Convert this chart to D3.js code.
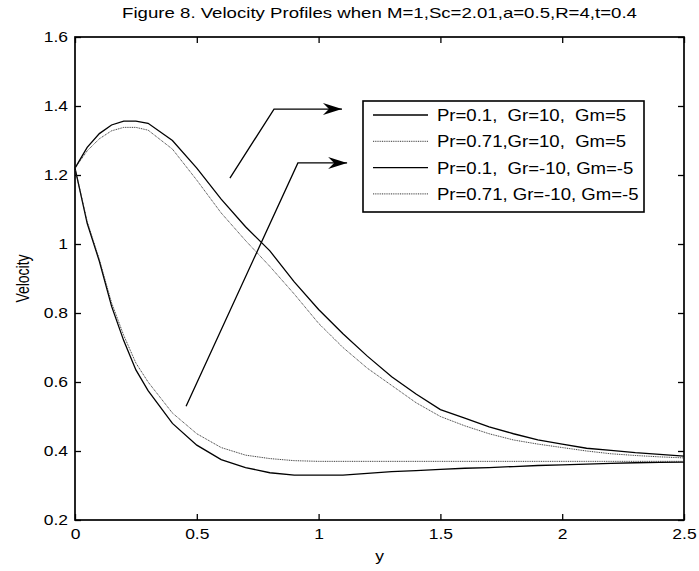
<!DOCTYPE html>
<html>
<head>
<meta charset="utf-8">
<script src="https://cdn.jsdelivr.net/npm/d3@7"></script>
<style>
  body { margin: 0; background: #fff; }
  svg text { font-family: "Liberation Sans", Arial, sans-serif; fill: #000; }
</style>
</head>
<body>
<div id="chart"></div>
<script>
// data
var yPos = [0, 0.05, 0.1, 0.15, 0.2, 0.25, 0.3, 0.4, 0.5, 0.6, 0.7, 0.8, 0.9, 1.0, 1.1, 1.2,
            1.3, 1.4, 1.5, 1.6, 1.7, 1.8, 1.9, 2.0, 2.1, 2.2, 2.3, 2.4, 2.5];

var velA = [1.22, 1.28, 1.32, 1.345, 1.356, 1.356, 1.35, 1.30, 1.22, 1.13, 1.05, 0.98, 0.89, 0.81, 0.74, 0.675,
            0.615, 0.565, 0.52, 0.495, 0.47, 0.45, 0.432, 0.42, 0.408, 0.402, 0.395, 0.39, 0.385];
var velB = [1.22, 1.27, 1.305, 1.328, 1.338, 1.338, 1.33, 1.275, 1.185, 1.09, 1.01, 0.935, 0.855, 0.77, 0.70, 0.64,
            0.59, 0.54, 0.50, 0.473, 0.45, 0.432, 0.42, 0.41, 0.40, 0.392, 0.387, 0.383, 0.38];
var velC = [1.22, 1.06, 0.95, 0.82, 0.72, 0.635, 0.575, 0.48, 0.417, 0.375, 0.352, 0.337, 0.33, 0.33, 0.33, 0.335,
            0.34, 0.343, 0.347, 0.35, 0.352, 0.355, 0.358, 0.36, 0.362, 0.364, 0.366, 0.367, 0.368];
var velD = [1.22, 1.065, 0.955, 0.83, 0.735, 0.655, 0.60, 0.51, 0.45, 0.41, 0.388, 0.378, 0.372, 0.37, 0.37, 0.37,
            0.37, 0.37, 0.37, 0.37, 0.37, 0.37, 0.37, 0.37, 0.37, 0.37, 0.37, 0.37, 0.37];

var seriesNames = ["Pr=0.1,  Gr=10,  Gm=5", "Pr=0.71,Gr=10,  Gm=5",
                   "Pr=0.1,  Gr=-10, Gm=-5", "Pr=0.71, Gr=-10, Gm=-5"];
var seriesVals = [velA, velB, velC, velD];
var seriesDotted = [false, true, false, true];

var xTicks = [0, 0.5, 1, 1.5, 2, 2.5];
var yTicks = [0.2, 0.4, 0.6, 0.8, 1, 1.2, 1.4, 1.6];

// arrow annotations in data units: start, elbow, tip
var arrows = [
  [[0.636, 1.191], [0.817, 1.391], [1.096, 1.391]],
  [[0.456, 0.530], [0.915, 1.235], [1.117, 1.235]]
];

// set the dimensions and margins of the graph
var margin = {top: 37, right: 15, bottom: 51, left: 75},
    width = 699 - margin.left - margin.right,
    height = 571 - margin.top - margin.bottom;

var x = d3.scaleLinear().domain([0, 2.5]).range([0, width]);
var y = d3.scaleLinear().domain([0.2, 1.6]).range([height, 0]);

var root = d3.select("#chart").append("svg")
    .attr("width", 699)
    .attr("height", 571);

var svg = root.append("g")
    .attr("transform", "translate(" + margin.left + "," + margin.top + ")");

var fmt = function(d) { return String(+d.toFixed(1)); };
var sx = 1.25; // the figure text is a bit wide

// axes with inward ticks, on all four sides
var gx = svg.append("g")
    .attr("transform", "translate(0," + height + ")")
    .call(d3.axisBottom(x).tickValues(xTicks).tickSizeInner(-6).tickSizeOuter(0).tickPadding(9).tickFormat(fmt));
var gy = svg.append("g")
    .call(d3.axisLeft(y).tickValues(yTicks).tickSizeInner(-6).tickSizeOuter(0).tickPadding(7).tickFormat(fmt));
svg.append("g")
    .call(d3.axisTop(x).tickValues(xTicks).tickSizeInner(-6).tickSizeOuter(0).tickFormat(""));
svg.append("g")
    .attr("transform", "translate(" + width + ",0)")
    .call(d3.axisRight(y).tickValues(yTicks).tickSizeInner(-6).tickSizeOuter(0).tickFormat(""));

svg.selectAll(".domain").remove();
svg.selectAll(".tick line").style("stroke", "#000").style("stroke-width", 1.3);

gx.selectAll(".tick text")
    .style("font-size", "14px")
    .attr("transform", "scale(" + sx + ",1)");
gy.selectAll(".tick text")
    .style("font-size", "14px")
    .attr("x", 0)
    .attr("transform", "translate(-7,0) scale(" + sx + ",1)");

// the frame
svg.append("rect")
    .attr("width", width)
    .attr("height", height)
    .style("fill", "none")
    .style("stroke", "#000")
    .style("stroke-width", 1.7);

// lines
var line = d3.line()
    .x(function(d, i) { return x(yPos[i]); })
    .y(function(d) { return y(d); });

seriesVals.forEach(function(vals, i) {
  svg.append("path")
      .datum(vals)
      .attr("d", line)
      .style("fill", "none")
      .style("stroke", seriesDotted[i] ? "#222" : "#000")
      .style("stroke-width", seriesDotted[i] ? 0.9 : 1.3)
      .style("stroke-dasharray", seriesDotted[i] ? "1,0.8" : null);
});

// arrows
root.append("defs").append("marker")
    .attr("id", "head")
    .attr("markerUnits", "userSpaceOnUse")
    .attr("markerWidth", 22)
    .attr("markerHeight", 16)
    .attr("refX", 20)
    .attr("refY", 8)
    .attr("orient", "auto")
  .append("path")
    .attr("d", "M20,8 L1,2 L7,8 L1,14 Z")
    .style("fill", "#000");

var arrowLine = d3.line()
    .x(function(d) { return x(d[0]); })
    .y(function(d) { return y(d[1]); });

arrows.forEach(function(a) {
  svg.append("path")
      .attr("d", arrowLine(a))
      .style("fill", "none")
      .style("stroke", "#000")
      .style("stroke-width", 1.3)
      .attr("marker-end", "url(#head)");
});

// legend
var leg = svg.append("g")
    .attr("transform", "translate(" + (363 - margin.left) + "," + (101 - margin.top) + ")");
leg.append("rect")
    .attr("width", 281)
    .attr("height", 111)
    .style("fill", "#fff")
    .style("stroke", "#000")
    .style("stroke-width", 1.6);
seriesNames.forEach(function(name, i) {
  var ly = 14 + i * 26.3;
  leg.append("line")
      .attr("x1", 10).attr("x2", 65)
      .attr("y1", ly).attr("y2", ly)
      .style("stroke", seriesDotted[i] ? "#222" : "#000")
      .style("stroke-width", seriesDotted[i] ? 0.9 : 1.3)
      .style("stroke-dasharray", seriesDotted[i] ? "1,0.8" : null);
  leg.append("text")
      .attr("x", 0)
      .attr("y", 0)
      .attr("transform", "translate(74," + (ly + 6) + ") scale(1.16,1)")
      .style("font-size", "16px")
      .style("white-space", "pre")
      .text(name);
});

// Graph Title
root.append("text")
    .attr("transform", "translate(" + (margin.left + width / 2) + ",18) scale(1.33,1)")
    .attr("text-anchor", "middle")
    .style("font-size", "14px")
    .text("Figure 8. Velocity Profiles when M=1,Sc=2.01,a=0.5,R=4,t=0.4");

// axis labels
root.append("text")
    .attr("transform", "translate(" + (margin.left + width / 2) + ",561) scale(" + sx + ",1)")
    .attr("text-anchor", "middle")
    .style("font-size", "14px")
    .text("y");

root.append("text")
    .attr("transform", "translate(29," + (margin.top + height / 2) + ") rotate(-90) scale(1," + sx + ")")
    .attr("text-anchor", "middle")
    .style("font-size", "14px")
    .text("Velocity");
</script>
</body>
</html>
